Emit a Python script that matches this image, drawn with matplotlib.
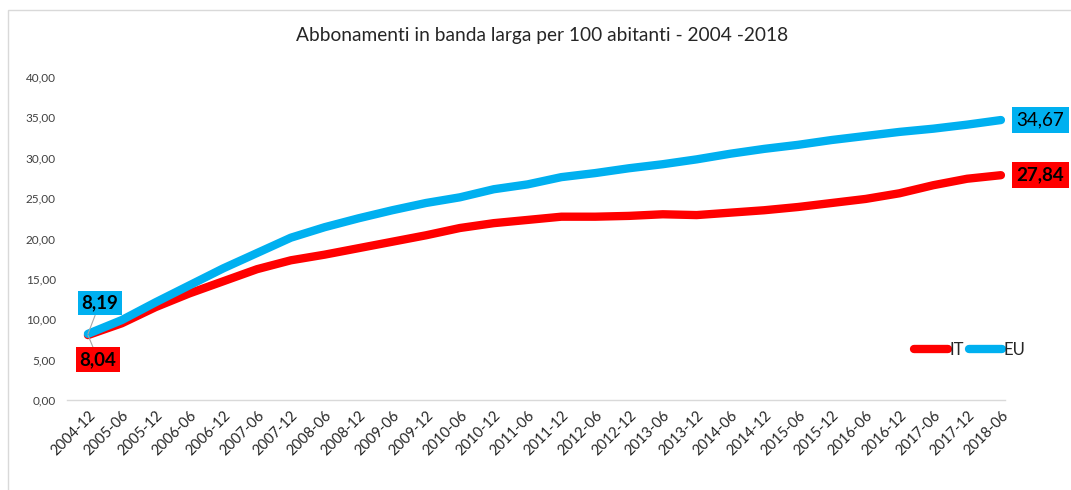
import matplotlib
matplotlib.use("Agg")
import matplotlib.pyplot as plt
from matplotlib.patches import Rectangle

periods = ["2004-12", "2005-06", "2005-12", "2006-06", "2006-12", "2007-06", "2007-12",
           "2008-06", "2008-12", "2009-06", "2009-12", "2010-06", "2010-12", "2011-06",
           "2011-12", "2012-06", "2012-12", "2013-06", "2013-12", "2014-06", "2014-12",
           "2015-06", "2015-12", "2016-06", "2016-12", "2017-06", "2017-12", "2018-06"]
it_values = [8.04, 9.5, 11.5, 13.2, 14.7, 16.2, 17.3, 18.0, 18.8, 19.6, 20.4, 21.3, 21.9,
             22.3, 22.7, 22.7, 22.8, 23.0, 22.9, 23.2, 23.5, 23.9, 24.4, 24.9, 25.6, 26.6,
             27.4, 27.84]
eu_values = [8.19, 9.9, 12.1, 14.2, 16.3, 18.2, 20.1, 21.4, 22.5, 23.5, 24.4, 25.1, 26.1,
             26.7, 27.6, 28.1, 28.7, 29.2, 29.8, 30.5, 31.1, 31.6, 32.2, 32.7, 33.2, 33.6,
             34.1, 34.67]
y_ticks = [0, 5, 10, 15, 20, 25, 30, 35, 40]
title = "Abbonamenti in banda larga per 100 abitanti - 2004 -2018"

RED = "#FF0000"
BLUE = "#00B0F0"
FONT = ["Lato", "DejaVu Sans"]
plt.rcParams["font.family"] = FONT

W, H = 1071, 490
fig = plt.figure(figsize=(W / 100, H / 100), dpi=100)
fig.patches.append(Rectangle((8 / W, -0.1), 1.2, (H - 10) / H + 0.1, transform=fig.transFigure,
                             fill=False, edgecolor="#D9D9D9", linewidth=1.0))

ax = fig.add_axes([67 / W, (H - 400) / H, (1005 - 67) / W, (400 - 77) / H])
x = list(range(len(periods)))
ax.plot(x, it_values, color=RED, linewidth=6, solid_capstyle="round", solid_joinstyle="round",
        label="IT", zorder=3)
ax.plot(x, eu_values, color=BLUE, linewidth=6, solid_capstyle="round", solid_joinstyle="round",
        label="EU", zorder=4)

ax.set_xlim(-0.62, 27.12)
ax.set_ylim(0, 40)
ax.set_yticks(y_ticks)
ax.set_yticklabels([f"{v:.2f}".replace(".", ",") for v in y_ticks], fontsize=8.5, color="#404040")
ax.set_xticks(x)
ax.set_xticklabels(periods, rotation=45, ha="right", rotation_mode="anchor", fontsize=10.5,
                   color="#262626")
ax.tick_params(axis="both", length=0)
ax.tick_params(axis="y", pad=8)
ax.tick_params(axis="x", pad=6)
for s in ["top", "right", "left"]:
    ax.spines[s].set_visible(False)
ax.spines["bottom"].set_color("#D9D9D9")
ax.spines["bottom"].set_linewidth(1)

fig.text(542 / W, (H - 36) / H, title, ha="center", va="center", fontsize=13.8, color="#262626")

def fmt(v):
    return f"{v:.2f}".replace(".", ",")

# start labels with leader lines
ax.annotate(fmt(eu_values[0]), xy=(x[0], eu_values[0]), xytext=(x[0] + 0.35, 12.0),
            ha="center", va="center", fontsize=13.5, fontweight="bold", color="black",
            bbox=dict(boxstyle="square,pad=0.2", fc=BLUE, ec="none"),
            arrowprops=dict(arrowstyle="-", color="#A6A6A6", lw=0.8, shrinkA=0, shrinkB=0), zorder=5)
ax.annotate(fmt(it_values[0]), xy=(x[0], it_values[0]), xytext=(x[0] + 0.3, 5.0),
            ha="center", va="center", fontsize=13.5, fontweight="bold", color="black",
            bbox=dict(boxstyle="square,pad=0.2", fc=RED, ec="none"),
            arrowprops=dict(arrowstyle="-", color="#A6A6A6", lw=0.8, shrinkA=0, shrinkB=0), zorder=5)
# end labels
ax.annotate(fmt(eu_values[-1]), xy=(x[-1], eu_values[-1]), xytext=(11, 0), textcoords="offset points",
            ha="left", va="center", fontsize=13.5, color="black", annotation_clip=False,
            bbox=dict(boxstyle="square,pad=0.25", fc=BLUE, ec="none"))
ax.annotate(fmt(it_values[-1]), xy=(x[-1], it_values[-1]), xytext=(11, 0), textcoords="offset points",
            ha="left", va="center", fontsize=13.5, fontweight="bold", color="black", annotation_clip=False,
            bbox=dict(boxstyle="square,pad=0.25", fc=RED, ec="none"))

leg = ax.legend(loc="center", bbox_to_anchor=((970 - 67) / (1005 - 67), (400 - 350) / (400 - 77)),
                ncol=2, frameon=False, fontsize=12, handlelength=2.0, handletextpad=0.1,
                columnspacing=0.3)
for t in leg.get_texts():
    t.set_color("#262626")

fig.savefig("out.png", dpi=100)
